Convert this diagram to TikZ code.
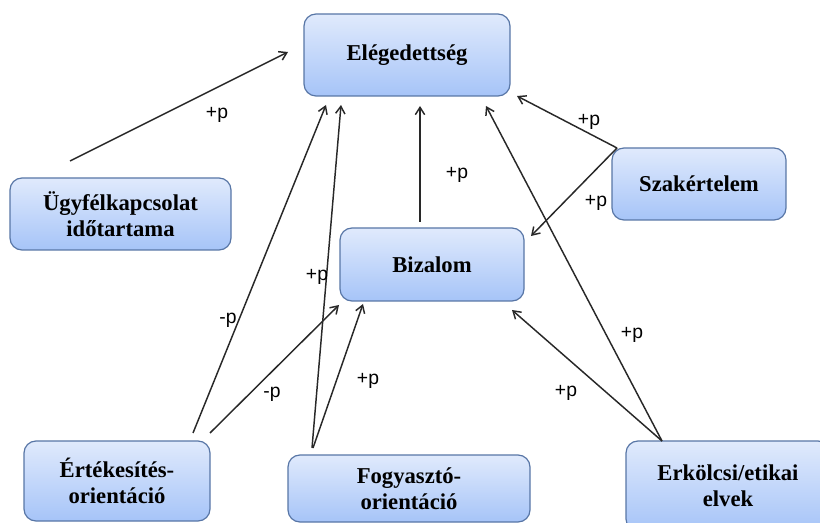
\documentclass[tikz,border=0pt]{standalone}
\usepackage{fontspec}
\setmainfont{Liberation Serif}
\newfontfamily\lblfont{Liberation Sans}
\usetikzlibrary{arrows.meta}
\definecolor{boxtop}{RGB}{224,234,252}
\definecolor{boxbot}{RGB}{166,196,248}
\definecolor{boxline}{RGB}{88,118,166}
\definecolor{wire}{RGB}{40,40,40}
\tikzset{
  concept/.style={rectangle, rounded corners=9pt, draw=boxline, line width=0.9pt,
    top color=boxtop, bottom color=boxbot, align=center, inner sep=2pt,
    font=\bfseries\fontsize{17}{19.5}\selectfont},
  link/.style={draw=wire, line width=1.1pt, -{Straight Barb[length=5.5pt,width=7pt,line width=1.1pt]}},
  sign/.style={font=\lblfont\fontsize{14.5}{16}\selectfont, inner sep=0pt}
}
\begin{document}
\begin{tikzpicture}[x=0.75pt,y=-0.75pt]
\useasboundingbox (0,0) rectangle (820,523);

% concept boxes
\node[concept, minimum width=154.5pt, minimum height=61.5pt] (ele) at (407,55) {Elégedettség};
\node[concept, minimum width=165.75pt, minimum height=54pt] (ugy) at (120.5,214) {Ügyfélkapcsolat\\időtartama};
\node[concept, minimum width=130.5pt, minimum height=54pt] (sza) at (699,184) {Szakértelem};
\node[concept, minimum width=138pt, minimum height=54.75pt] (biz) at (432,264.5) {Bizalom};
\node[concept, minimum width=139.5pt, minimum height=60pt] (ert) at (117,481) {Értékesítés-\\orientáció};
\node[concept, minimum width=181.5pt, minimum height=50.25pt] (fog) at (409,488.5) {Fogyasztó-\\orientáció};
\node[concept, minimum width=153pt, minimum height=67.5pt] (erk) at (728,486) {Erkölcsi/etikai\\elvek};

% connector end points
\coordinate (a1s) at (70,161);   \coordinate (a1e) at (288,52);
\coordinate (a2s) at (193,433);  \coordinate (a2e) at (326,105);
\coordinate (a3s) at (210,433);  \coordinate (a3e) at (339,305);
\coordinate (a4s) at (312,448);  \coordinate (a4e) at (341,105);
\coordinate (a5s) at (313,448);  \coordinate (a5e) at (363,304);
\coordinate (a6s) at (420,222);  \coordinate (a6e) at (420,106);
\coordinate (a7s) at (617,148);  \coordinate (a7e) at (517,96);
\coordinate (a8e) at (531,236);
\coordinate (a9s) at (662,441);  \coordinate (a9e) at (486,106);
\coordinate (a10e) at (512,310);

% influences
\draw[link] (a1s) -- (a1e);
\draw[link] (a2s) -- (a2e);
\draw[link] (a3s) -- (a3e);
\draw[link] (a4s) -- (a4e);
\draw[link] (a5s) -- (a5e);
\draw[link] (a6s) -- (a6e);
\draw[link] (a7s) -- (a7e);
\draw[link] (a7s) -- (a8e);
\draw[link] (a9s) -- (a9e);
\draw[link] (a9s) -- (a10e);

% signs of the effects
\node[sign] (s1) at (217,115) {+p};
\node[sign] (s2) at (228,320) {-p};
\node[sign] (s3) at (272,394) {-p};
\node[sign] (s4) at (317,277) {+p};
\node[sign] (s5) at (368,381) {+p};
\node[sign] (s6) at (457,175) {+p};
\node[sign] (s7) at (589,122) {+p};
\node[sign] (s8) at (596,203) {+p};
\node[sign] (s9) at (632,335) {+p};
\node[sign] (s10) at (566,393) {+p};
\end{tikzpicture}
\end{document}
